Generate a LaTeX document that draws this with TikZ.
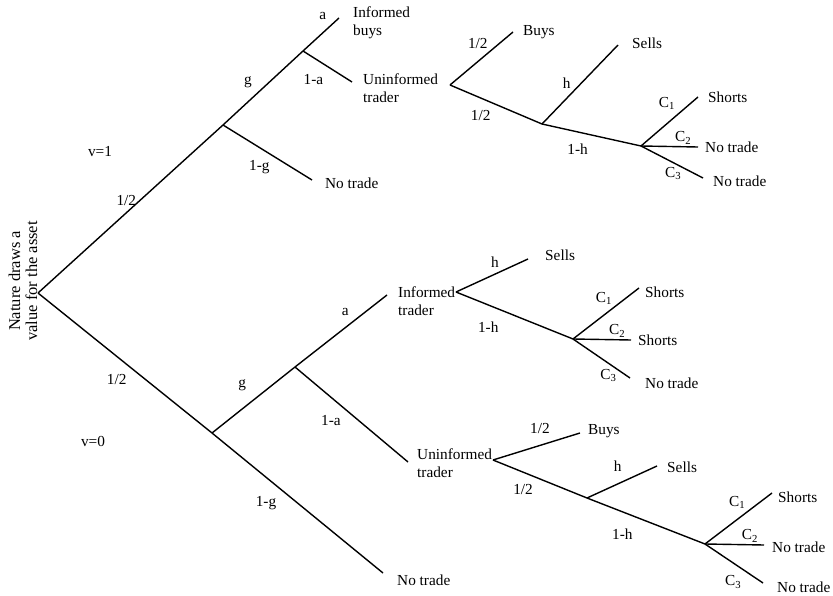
\documentclass[tikz,border=0pt]{standalone}
\usepackage{fontspec}
\setmainfont{Liberation Serif}
\usetikzlibrary{positioning}

\tikzset{
  branch/.style={line width=1.4pt},
  prob/.style={inner sep=2pt},
  leaf/.style={align=left, inner sep=1pt},
  nature/.style={align=center, rotate=90, inner sep=1pt, font=\fontsize{16.5}{17}\selectfont}
}
\newcommand{\Cs}[1]{C\textsubscript{#1}}

\begin{document}
\begin{tikzpicture}[x=1pt,y=-1pt,font=\fontsize{15.3}{18}\selectfont]
  \useasboundingbox (0,0) rectangle (833,596);

  % branching points and ends
  \coordinate (r)  at (38,293);
  \coordinate (t1) at (223,125);
  \coordinate (t2) at (303,51);
  \coordinate (ib) at (339,18);
  \coordinate (ue) at (352,82);
  \coordinate (ng) at (312,180);
  \coordinate (u0) at (450,85);
  \coordinate (ub) at (513,32);
  \coordinate (u1) at (542,124);
  \coordinate (us) at (618,45);
  \coordinate (u2) at (641,146);
  \coordinate (c1) at (698,97);
  \coordinate (c2) at (698,147);
  \coordinate (c3) at (703,178);

  \coordinate (b1) at (212,433);
  \coordinate (b2) at (295,367);
  \coordinate (bi) at (387,295);
  \coordinate (bu) at (408,462);
  \coordinate (bn) at (383,573);
  \coordinate (i0) at (456,292);
  \coordinate (is) at (528,259);
  \coordinate (i1) at (573,339);
  \coordinate (d1) at (639,288);
  \coordinate (d2) at (631,340);
  \coordinate (d3) at (630,378);
  \coordinate (w0) at (493,460);
  \coordinate (wb) at (580,433);
  \coordinate (w1) at (587,498);
  \coordinate (ws) at (657,466);
  \coordinate (w2) at (705,544);
  \coordinate (e1) at (772,493);
  \coordinate (e2) at (764,545);
  \coordinate (e3) at (763,583);

  \node[nature] (nat) at (23,281) {Nature draws a\\value for the asset};
  \node[prob]   (v1)  at (100,152) {v=1};
  \node[prob]   (v0)  at (93,441)  {v=0};

  % v=1
  \path[branch]
    (r)  edge node[prob, left=1pt, pos=.55]         {1/2} (t1)
         edge node[prob, below left=4pt, pos=.54]   {1/2} (b1)
    (t1) edge node[prob, above left=4pt, pos=.43]   {g}   (t2)
         edge node[prob, below left=2pt, pos=.57]   {1-g} (ng)
    (t2) edge node[prob, above left=3.5pt, pos=.79] {a}   (ib)
         edge node[prob, below left=5pt, pos=.54]   {1-a} (ue)
    (u0) edge node[prob, above left, pos=.64]       {1/2} (ub)
         edge node[prob, below left=4pt, pos=.5]    {1/2} (u1)
    (u1) edge node[prob, above left, pos=.41]       {h}   (us)
         edge node[prob, below=9pt, pos=.36]        {1-h} (u2)
    (u2) edge node[prob, above left=1.5pt, pos=.66] {\Cs{1}} (c1)
         edge node[prob, above, pos=.74]            {\Cs{2}} (c2)
         edge node[prob, below=2pt, pos=.52]        {\Cs{3}} (c3);

  % v=0
  \path[branch]
    (b1) edge node[prob, above left=8pt, pos=.51]   {g}   (b2)
         edge node[prob, below left=4.5pt, pos=.41] {1-g} (bn)
    (b2) edge node[prob, above left=3.5pt, pos=.64] {a}   (bi)
         edge node[prob, below left=3.5pt, pos=.45] {1-a} (bu)
    (i0) edge node[prob, above=3.5pt, pos=.54]      {h}   (is)
         edge node[prob, below left=9pt, pos=.44]   {1-h} (i1)
    (i1) edge node[prob, above left, pos=.63]       {\Cs{1}} (d1)
         edge node[prob, above, pos=.76]            {\Cs{2}} (d2)
         edge node[prob, below=3pt, pos=.62]        {\Cs{3}} (d3)
    (w0) edge node[prob, above=9.5pt, pos=.54]      {1/2} (wb)
         edge node[prob, below=10pt, pos=.32]       {1/2} (w1)
    (w1) edge node[prob, above=9.5pt, pos=.44]      {h}   (ws)
         edge node[prob, below=14.5pt, pos=.3]      {1-h} (w2)
    (w2) edge node[prob, above left, pos=.64]       {\Cs{1}} (e1)
         edge node[prob, above, pos=.76]            {\Cs{2}} (e2)
         edge node[prob, below left=2.5pt, pos=.7]  {\Cs{3}} (e3);

  % outcomes
  \node[leaf, right=13pt of ib, yshift=-4.5pt] (ibT) {Informed\\buys};
  \node[leaf, right=10pt of ue, yshift=-6.5pt] (ueT) {Uninformed\\trader};
  \node[leaf, right=12pt of ng, yshift=-3pt]   (ngT) {No trade};
  \node[leaf, right=9pt of ub]                 (ubT) {Buys};
  \node[leaf, right=13pt of us, yshift=2pt]    (usT) {Sells};
  \node[leaf, right=9pt of c1]                 (c1T) {Shorts};
  \node[leaf, right=6pt of c2]                 (c2T) {No trade};
  \node[leaf, right=9pt of c3, yshift=-3pt]    (c3T) {No trade};

  \node[leaf, right=10pt of bi, yshift=-6pt]   (biT) {Informed\\trader};
  \node[leaf, right=8pt of bu, yshift=-1pt]    (buT) {Uninformed\\trader};
  \node[leaf, right=13pt of bn, yshift=-7pt]   (bnT) {No trade};
  \node[leaf, right=16pt of is, yshift=4pt]    (isT) {Sells};
  \node[leaf, right=5pt of d1, yshift=-4pt]    (d1T) {Shorts};
  \node[leaf, right=6pt of d2]                 (d2T) {Shorts};
  \node[leaf, right=14pt of d3, yshift=-5pt]   (d3T) {No trade};
  \node[leaf, right=7pt of wb, yshift=2pt]     (wbT) {Buys};
  \node[leaf, right=9pt of ws, yshift=-1pt]    (wsT) {Sells};
  \node[leaf, right=5pt of e1, yshift=-4pt]    (e1T) {Shorts};
  \node[leaf, right=7pt of e2, yshift=-2pt]    (e2T) {No trade};
  \node[leaf, right=13pt of e3, yshift=-4pt]   (e3T) {No trade};
\end{tikzpicture}
\end{document}
